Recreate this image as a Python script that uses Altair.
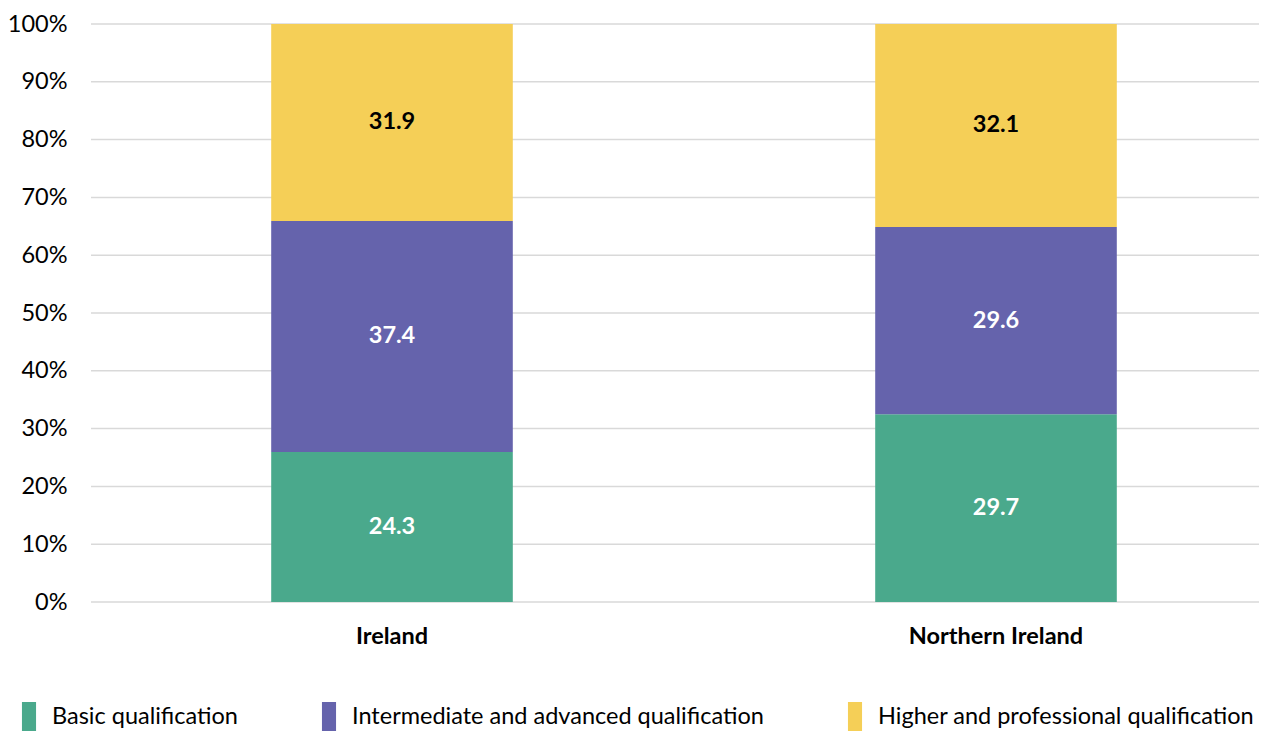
import altair as alt
import pandas as pd

regions = ["Ireland", "Northern Ireland"]
levels = [
    "Basic qualification",
    "Intermediate and advanced qualification",
    "Higher and professional qualification",
]
ireland_values = [24.3, 37.4, 31.9]
northern_ireland_values = [29.7, 29.6, 32.1]
colors = ["#4aa98c", "#6563ac", "#f5cf57"]
label_colors = ["white", "white", "black"]
grid_ticks = [i / 10 for i in range(11)]

rows = []
for region, vals in zip(regions, [ireland_values, northern_ireland_values]):
    for i, (lvl, v) in enumerate(zip(levels, vals)):
        rows.append({"region": region, "level": lvl, "order": i, "value": v,
                     "label_color": label_colors[i]})
df = pd.DataFrame(rows)

FONT = "Lato"
FS = 23.5
PLOT_W = 1168
PLOT_H = 578

base = alt.Chart(df).transform_stack(
    stack="value",
    as_=["y0", "y1"],
    groupby=["region"],
    sort=[alt.SortField("order", order="ascending")],
    offset="normalize",
).transform_calculate(ymid="(datum.y0 + datum.y1) / 2")

y_scale = alt.Scale(domain=[0, 1], nice=False)

# horizontal gridlines across the plot area
grid = alt.Chart(pd.DataFrame({"tick": grid_ticks})).mark_rule(
    color="#d9d9d9", strokeWidth=1.5
).encode(
    y=alt.Y("tick:Q", scale=y_scale),
    x=alt.value(0),
    x2=alt.value(PLOT_W),
)

x_enc = alt.X(
    "region:N",
    sort=regions,
    scale=alt.Scale(range=[-1, 1207], paddingInner=0.6, paddingOuter=0.3),
    axis=alt.Axis(
        title=None, labelAngle=0, domain=False, ticks=False, grid=False,
        labelPadding=22, labelFont=FONT, labelFontSize=FS,
        labelFontWeight="bold", labelColor="#000000",
    ),
)

bars = base.mark_bar().encode(
    x=x_enc,
    y=alt.Y(
        "y0:Q",
        scale=y_scale,
        axis=alt.Axis(
            title=None, format=".0%", values=grid_ticks,
            domain=False, ticks=False, grid=False, labelPadding=24,
            labelFont=FONT, labelFontSize=FS, labelColor="#000000",
        ),
    ),
    y2="y1:Q",
    color=alt.Color(
        "level:N",
        sort=levels,
        scale=alt.Scale(domain=levels, range=colors),
        legend=alt.Legend(
            title=None, orient="none", legendX=-77, legendY=678,
            direction="horizontal", columns=3, columnPadding=76,
            symbolType="M-0.47,-1H0.47V1H-0.47Z", symbolSize=900,
            symbolStrokeWidth=0, symbolOpacity=1,
            labelFont=FONT, labelFontSize=FS, labelColor="#000000",
            labelOffset=8, labelLimit=700,
        ),
    ),
)

labels = base.mark_text(font=FONT, fontSize=FS, fontWeight="bold").encode(
    x=alt.X("region:N", sort=regions),
    y="ymid:Q",
    text=alt.Text("value:Q", format=".1f"),
    color=alt.Color("label_color:N", scale=None),
)

chart = alt.layer(grid, bars, labels).properties(
    width=PLOT_W,
    height=PLOT_H,
    background="white",
    autosize=alt.AutoSizeParams(type="none"),
    padding={"left": 91, "top": 24, "right": 20, "bottom": 129},
).configure_view(strokeWidth=0, stroke="transparent")

chart.save("out.html", embed_options={"renderer": "svg", "actions": False})
